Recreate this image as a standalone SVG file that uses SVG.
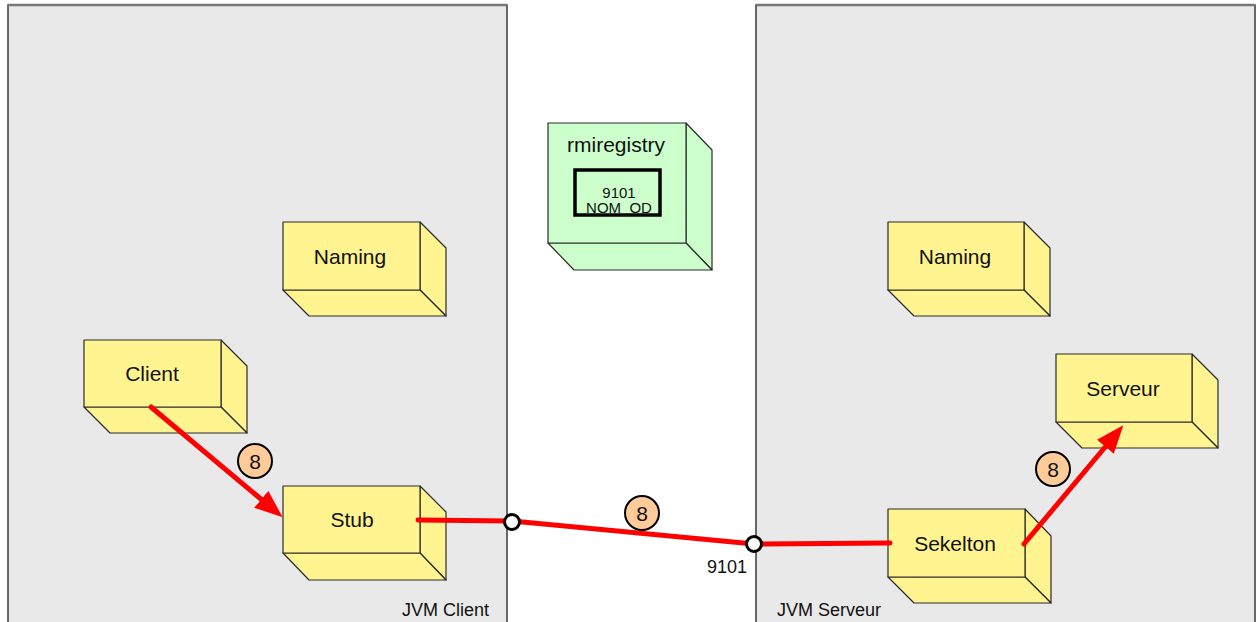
<svg xmlns="http://www.w3.org/2000/svg" width="1257" height="622" viewBox="0 0 1257 622">
  <style>
    .panel { fill: #E9E9E9; stroke: #3A3A3A; stroke-width: 1.5; }
    .panel-top { stroke: #777777; stroke-width: 2.5; }
    .face { fill: #FFF48F; stroke: #2B2B2B; stroke-width: 1.2; stroke-linejoin: round; }
    .face-g { fill: #CCFFCC; stroke: #2B2B2B; stroke-width: 1.2; stroke-linejoin: round; }
    .lbl { font-family: "Liberation Sans", Arial, sans-serif; font-size: 21px; fill: #111; text-anchor: middle; }
    .small { font-family: "Liberation Sans", Arial, sans-serif; font-size: 15px; fill: #111; text-anchor: middle; }
    .cap { font-family: "Liberation Sans", Arial, sans-serif; font-size: 18px; fill: #111; }
    .flow { fill: none; stroke: #FF0000; stroke-width: 5; stroke-linecap: round; }
    .port { fill: #FFFFFF; stroke: #000000; stroke-width: 3; }
    .badge { fill: #FFCC99; stroke: #000000; stroke-width: 2; }
  </style>
  <defs>
    <marker id="arrow" markerUnits="userSpaceOnUse" viewBox="0 0 28 22" refX="1" refY="11" markerWidth="28" markerHeight="22" orient="auto">
      <path d="M0,0 L28,11 L0,22 Z" fill="#FF0000"/>
    </marker>
  </defs>

  <rect width="1257" height="622" fill="#FFFFFF"/>

  <!-- JVM containers -->
  <g id="jvm-client">
    <rect class="panel" x="8" y="5" width="499" height="630"/>
    <line class="panel-top" x1="8" y1="5" x2="507" y2="5"/>
    <text class="cap" x="402" y="616">JVM Client</text>
  </g>
  <g id="jvm-serveur">
    <rect class="panel" x="756" y="5" width="499" height="630"/>
    <line class="panel-top" x1="756" y1="5" x2="1255" y2="5"/>
    <text class="cap" x="777" y="616">JVM Serveur</text>
  </g>

  <!-- rmiregistry -->
  <g id="rmiregistry">
    <polygon class="face-g" points="686,123 712,150 712,270 686,243"/>
    <polygon class="face-g" points="548,243 686,243 712,270 574,270"/>
    <rect class="face-g" x="548" y="123" width="138" height="120"/>
    <text class="lbl" x="616" y="152">rmiregistry</text>
    <rect x="575" y="170" width="85" height="45" fill="none" stroke="#000" stroke-width="3.5"/>
    <text class="small" x="619" y="198">9101</text>
    <text class="small" x="619" y="213">NOM_OD</text>
  </g>

  <!-- client-side objects -->
  <g id="naming-client">
    <polygon class="face" points="420,222 446,248 446,316 420,290"/>
    <polygon class="face" points="283,290 420,290 446,316 309,316"/>
    <rect class="face" x="283" y="222" width="137" height="68"/>
    <text class="lbl" x="350" y="264">Naming</text>
  </g>
  <g id="client">
    <polygon class="face" points="221,340 247,366 247,433 221,407"/>
    <polygon class="face" points="84,407 221,407 247,433 110,433"/>
    <rect class="face" x="84" y="340" width="137" height="67"/>
    <text class="lbl" x="152" y="381">Client</text>
  </g>
  <g id="stub">
    <polygon class="face" points="420,486 446,512 446,580 420,553"/>
    <polygon class="face" points="283,553 420,553 446,580 309,580"/>
    <rect class="face" x="283" y="486" width="137" height="67"/>
    <text class="lbl" x="352" y="527">Stub</text>
  </g>

  <!-- server-side objects -->
  <g id="naming-serveur">
    <polygon class="face" points="1024,222 1050,248 1050,316 1024,290"/>
    <polygon class="face" points="888,290 1024,290 1050,316 914,316"/>
    <rect class="face" x="888" y="222" width="136" height="68"/>
    <text class="lbl" x="955" y="264">Naming</text>
  </g>
  <g id="serveur">
    <polygon class="face" points="1192,354 1218,380 1218,448 1192,422"/>
    <polygon class="face" points="1056,422 1192,422 1218,448 1082,448"/>
    <rect class="face" x="1056" y="354" width="136" height="68"/>
    <text class="lbl" x="1123" y="396">Serveur</text>
  </g>
  <g id="sekelton">
    <polygon class="face" points="1025,509 1051,536 1051,603 1025,577"/>
    <polygon class="face" points="888,577 1025,577 1051,603 914,603"/>
    <rect class="face" x="888" y="509" width="137" height="68"/>
    <text class="lbl" x="955" y="551">Sekelton</text>
  </g>

  <!-- call flow -->
  <g id="connectors">
    <line class="flow" x1="151" y1="407" x2="262" y2="500" marker-end="url(#arrow)"/>
    <polyline class="flow" points="418,520 512,521 754,544 890,543"/>
    <line class="flow" x1="1024" y1="544" x2="1106" y2="446" marker-end="url(#arrow)"/>
    <circle class="port" cx="512" cy="522" r="7.5"/>
    <circle class="port" cx="754" cy="544" r="7.5"/>
    <text class="cap" x="707" y="573">9101</text>

    <circle class="badge" cx="255" cy="461" r="17"/>
    <text class="lbl" x="255" y="469">8</text>
    <circle class="badge" cx="642" cy="513" r="17"/>
    <text class="lbl" x="642" y="521">8</text>
    <circle class="badge" cx="1053" cy="469" r="17"/>
    <text class="lbl" x="1053" y="477">8</text>
  </g>
</svg>
